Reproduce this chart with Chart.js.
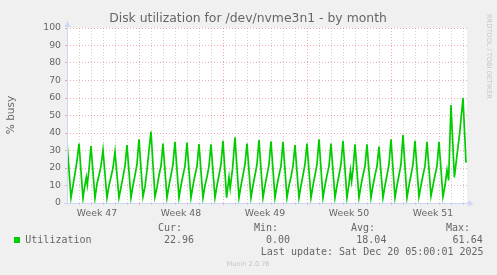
<!DOCTYPE html>
<html>
<head>
<meta charset="utf-8">
<script src="https://cdn.jsdelivr.net/npm/chart.js@4/dist/chart.umd.min.js"></script>
<style>
  html, body { margin: 0; padding: 0; background: #F0F0F0; }
  #wrap { position: relative; width: 497px; height: 275px; }
  canvas { display: block; }
</style>
</head>
<body>
<div id="wrap"><canvas id="c" width="497" height="275"></canvas></div>
<script>
// ---- data (x = days since Mon 17 Nov 2025, Week 47) ----
const times = [
  1, 1.33, 1.5, 1.67, 1.83,
  2, 2.33, 2.47, 2.61, 2.69, 2.83,
  3, 3.33, 3.5, 3.67, 3.83,
  4, 4.33, 4.5, 4.67, 4.83,
  5, 5.33, 5.5, 5.67, 5.83,
  6, 6.33, 6.5, 6.67, 6.83,
  7, 7.33, 7.5, 7.67, 7.83,
  8, 8.33, 8.5, 8.67, 8.83,
  9, 9.33, 9.5, 9.67, 9.83,
  10, 10.33, 10.5, 10.67, 10.83,
  11, 11.33, 11.5, 11.67, 11.83,
  12, 12.33, 12.5, 12.67, 12.83,
  13, 13.33, 13.5, 13.67, 13.83,
  14, 14.3, 14.5, 14.6, 14.8,
  15, 15.33, 15.5, 15.67, 15.83,
  16, 16.33, 16.5, 16.67, 16.83,
  17, 17.33, 17.5, 17.67, 17.83,
  18, 18.33, 18.5, 18.67, 18.83,
  19, 19.33, 19.5, 19.67, 19.83,
  20, 20.33, 20.5, 20.67, 20.83,
  21, 21.33, 21.5, 21.67, 21.83,
  22, 22.33, 22.5, 22.67, 22.83,
  23, 23.33, 23.5, 23.67, 23.83,
  24, 24.33, 24.5, 24.62, 24.72, 24.85,
  25, 25.33, 25.5, 25.67, 25.83,
  26, 26.33, 26.5, 26.67, 26.83,
  27, 27.33, 27.5, 27.67, 27.83,
  28, 28.33, 28.5, 28.67, 28.83,
  29, 29.33, 29.5, 29.67, 29.83,
  30, 30.33, 30.5, 30.67, 30.83,
  31, 31.33, 31.5, 31.67, 31.83,
  32, 32.33, 32.5, 32.67, 32.8,
  33, 33.28, 33.5, 33.72,
  34, 34.25
];
const util = [
  35, 3, 10, 17, 24,
  34, 2.7, 9.3, 14.7, 10.3, 19,
  32.6, 2.7, 11, 16, 21,
  30.3, 3, 10, 15, 20,
  29.3, 3, 9, 15, 21,
  33.1, 3, 10, 16, 22,
  36.4, 3.6, 9.3, 19, 30,
  40.8, 3.6, 9, 16, 21,
  34, 3, 10, 16, 22,
  35, 3, 10, 16, 21,
  34.5, 3, 10, 16, 21,
  33.7, 3, 10, 15, 21,
  33.5, 3, 10, 16, 22,
  35.6, 3, 14.7, 8.4, 20,
  37.5, 3, 10, 16, 22,
  34, 3, 10, 16, 22,
  36, 3, 10, 16, 22,
  35.3, 3, 10, 16, 21,
  35, 3, 10, 15, 21,
  33.1, 3, 10, 16, 22,
  34, 3, 10, 16, 22,
  36.4, 3, 10, 16, 21,
  34, 3, 10, 16, 22,
  35.6, 3, 11, 18.5, 12.5, 20,
  33.5, 3, 10, 16, 21,
  33.5, 3, 10, 16, 21,
  32.2, 3, 10, 16, 22,
  36.4, 3, 10, 16, 22,
  38.9, 3, 10, 16, 22,
  35.6, 3.6, 10, 16, 21,
  35, 4, 10, 16, 21,
  35, 3.6, 10, 18.9, 13,
  56, 14.7, 27.4, 39.8,
  60, 23
];
const weekLabels = ['Week 47', 'Week 48', 'Week 49', 'Week 50', 'Week 51'];
const weekCenters = [3.5, 10.5, 17.5, 24.5, 31.5];
const weekStarts = [7, 14, 21, 28];
const dayTicks = [1,2,3,4,5,6,7,8,9,10,11,12,13,14,15,16,17,18,19,20,21,22,23,24,25,26,27,28,29,30,31,32,33,34];
const yTicks = [0,5,10,15,20,25,30,35,40,45,50,55,60,65,70,75,80,85,90,95,100];
const xMin = 1, xMax = 34.3333;

const title = 'Disk utilization for /dev/nvme3n1 - by month';
const yTitle = '% busy';
const seriesName = 'Utilization';
const statHeads = ['Cur:', 'Min:', 'Avg:', 'Max:'];
const statVals = ['22.96', '0.00', '18.04', '61.64'];
const lastUpdate = 'Last update: Sat Dec 20 05:00:01 2025';
const footer = 'Munin 2.0.76';
const watermark = 'RRDTOOL / TOBI OETIKER';

// ---- styling ----
const GREEN = '#00CC00';
const FONT_COL = '#666666';
const MINOR = 'rgba(143,143,143,0.42)';
const MAJOR = 'rgba(222,79,79,0.45)';
const AXIS = '#CFD6F8';

const points = times.map((t, i) => ({ x: t, y: util[i] }));

const bgPlugin = {
  id: 'bg',
  beforeDraw(chart) {
    const { ctx, chartArea: a } = chart;
    ctx.save();
    ctx.fillStyle = '#FFFFFF';
    ctx.fillRect(a.left, a.top, a.right - a.left, a.bottom - a.top);
    ctx.restore();
  }
};

const decoPlugin = {
  id: 'deco',
  afterDraw(chart) {
    const { ctx, chartArea: a } = chart;
    ctx.save();
    // axes with arrows
    ctx.strokeStyle = AXIS; ctx.fillStyle = AXIS; ctx.lineWidth = 1;
    ctx.beginPath();
    ctx.moveTo(a.left - 3, a.bottom + 0.5); ctx.lineTo(a.right + 3, a.bottom + 0.5);
    ctx.moveTo(a.left + 0.5, a.bottom + 2); ctx.lineTo(a.left + 0.5, a.top - 3);
    ctx.stroke();
    ctx.beginPath();
    ctx.moveTo(a.right + 7, a.bottom + 0.5);
    ctx.lineTo(a.right + 1, a.bottom - 2.5);
    ctx.lineTo(a.right + 1, a.bottom + 3.5);
    ctx.closePath(); ctx.fill();
    ctx.beginPath();
    ctx.moveTo(a.left + 0.5, a.top - 7);
    ctx.lineTo(a.left - 2.5, a.top - 1);
    ctx.lineTo(a.left + 3.5, a.top - 1);
    ctx.closePath(); ctx.fill();

    // title
    ctx.fillStyle = FONT_COL;
    ctx.font = '12.4px "DejaVu Sans"';
    ctx.textAlign = 'center'; ctx.textBaseline = 'middle';
    ctx.fillText(title, 248, 19);

    // y title
    ctx.save();
    ctx.translate(11, 115);
    ctx.rotate(-Math.PI / 2);
    ctx.font = '10.5px "DejaVu Sans"';
    ctx.fillText(yTitle, 0, 0);
    ctx.restore();

    // watermark
    ctx.save();
    ctx.translate(488.5, 14);
    ctx.rotate(Math.PI / 2);
    ctx.font = '6.6px "DejaVu Sans"';
    ctx.fillStyle = '#C4C4C4';
    ctx.textAlign = 'left';
    ctx.fillText(watermark, 0, 0);
    ctx.restore();

    // legend
    ctx.fillStyle = GREEN;
    ctx.fillRect(14, 237, 6, 6);
    ctx.fillStyle = FONT_COL;
    ctx.font = '10px "DejaVu Sans Mono"';
    ctx.textAlign = 'left';
    ctx.fillText(seriesName, 25.3, 240);
    const headX = [158, 254, 351, 446];
    const valX = [164, 266, 356.3, 452.6];
    statHeads.forEach((h, i) => ctx.fillText(h, headX[i], 228));
    statVals.forEach((v, i) => ctx.fillText(v, valX[i], 240));
    ctx.fillText(lastUpdate, 260.8, 252);

    // footer
    ctx.font = '6.6px "DejaVu Sans"';
    ctx.fillStyle = '#C4C4C4';
    ctx.textAlign = 'center';
    ctx.fillText(footer, 248, 264);
    ctx.restore();
  }
};

new Chart(document.getElementById('c'), {
  type: 'line',
  data: {
    datasets: [{
      label: seriesName,
      data: points,
      borderColor: GREEN,
      borderWidth: 1.7,
      pointRadius: 0,
      tension: 0,
      fill: false
    }]
  },
  options: {
    responsive: false,
    animation: false,
    devicePixelRatio: 1,
    layout: { padding: { top: 28, right: 30, bottom: 0, left: 0 } },
    plugins: { legend: { display: false }, tooltip: { enabled: false }, title: { display: false } },
    scales: {
      x: {
        type: 'linear',
        min: xMin, max: xMax,
        afterBuildTicks(scale) {
          const vals = dayTicks.concat(weekCenters).sort((a, b) => a - b);
          scale.ticks = vals.map(v => ({ value: v }));
        },
        afterFit(scale) { scale.height = 72; },
        ticks: {
          autoSkip: false, maxRotation: 0, minRotation: 0,
          color: FONT_COL,
          font: { family: 'DejaVu Sans', size: 9.3 },
          padding: 3,
          callback(v) {
            const i = weekCenters.indexOf(v);
            return i >= 0 ? weekLabels[i] : '';
          }
        },
        grid: {
          tickLength: 2,
          lineWidth: 1,
          color(ctx) {
            const v = ctx.tick ? ctx.tick.value : null;
            if (weekCenters.includes(v)) return 'rgba(0,0,0,0)';
            if (weekStarts.includes(v)) return MAJOR;
            return MINOR;
          }
        },
        border: { display: false, dash: [1, 2] }
      },
      y: {
        min: 0, max: 100,
        afterBuildTicks(scale) { scale.ticks = yTicks.map(v => ({ value: v })); },
        afterFit(scale) { scale.width = 67; },
        ticks: {
          color: FONT_COL,
          font: { family: 'DejaVu Sans', size: 9.3 },
          padding: 4,
          callback(v) { return v % 10 === 0 ? String(v) : ''; }
        },
        grid: {
          tickLength: 2,
          lineWidth: 1,
          color(ctx) {
            const v = ctx.tick ? ctx.tick.value : 0;
            return v % 10 === 0 ? MAJOR : MINOR;
          }
        },
        border: { display: false, dash: [1, 2] }
      }
    }
  },
  plugins: [bgPlugin, decoPlugin]
});
</script>
</body>
</html>
